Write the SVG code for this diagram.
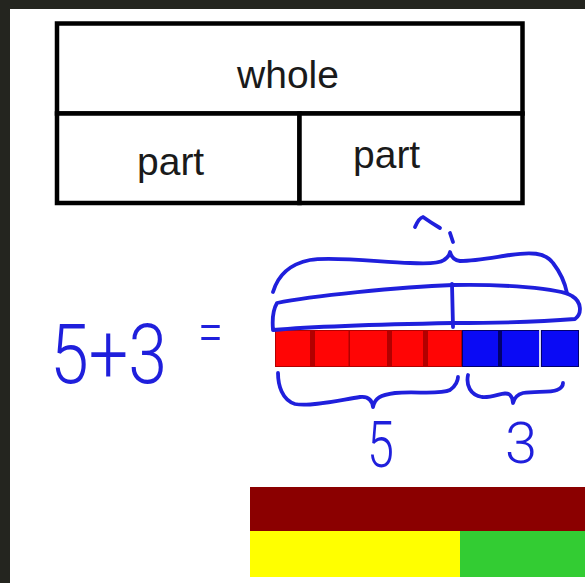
<svg xmlns="http://www.w3.org/2000/svg" width="585" height="583" viewBox="0 0 585 583">
<style>
.cell{fill:#fff;stroke:#000;stroke-width:4.5}
.lbl{font-family:"Liberation Sans",Arial,sans-serif;font-size:39px;fill:#1a1a1a}
.ink{fill:none;stroke:#1f1fdc;stroke-width:3.8;stroke-linecap:round;stroke-linejoin:round}
.hand{font-family:Roboto,"DejaVu Sans",sans-serif;font-weight:300;fill:#1f1fdc}
.red{fill:#ff0505}
.blue{fill:#0a0af5}
</style>
<rect x="0" y="0" width="585" height="583" fill="#24251f"/>
<rect x="10" y="9" width="575" height="574" fill="#fff"/>

<g id="whole">
<rect class="cell" x="57" y="23.5" width="465.5" height="90"/>
<text class="lbl" x="288" y="88" text-anchor="middle">whole</text>
</g>
<g id="part-left">
<rect class="cell" x="57" y="113.5" width="242.5" height="89.5"/>
<text class="lbl" x="137" y="175">part</text>
</g>
<g id="part-right">
<rect class="cell" x="299.5" y="113.5" width="223" height="89.5"/>
<text class="lbl" x="353" y="168">part</text>
</g>

<g id="equation">
<text class="hand" x="50" y="383" font-size="84" textLength="117" lengthAdjust="spacingAndGlyphs">5+3</text>
<text class="hand" x="198" y="352" font-size="58" textLength="25" lengthAdjust="spacingAndGlyphs">=</text>
</g>

<g id="cubes">
<rect x="275" y="330" width="187" height="37" fill="#b30000"/>
<rect class="red" x="276" y="331" width="34" height="35"/>
<rect class="red" x="315" y="331" width="33.5" height="35"/>
<rect class="red" x="350" y="331" width="37" height="35"/>
<rect class="red" x="392" y="331" width="31" height="35"/>
<rect class="red" x="428" y="331" width="33" height="35"/>
<rect x="462" y="330" width="117" height="37" fill="#00006e"/>
<rect class="blue" x="463" y="331" width="35" height="35"/>
<rect class="blue" x="502" y="331" width="37" height="35"/>
<rect x="539" y="330" width="2" height="37" fill="#d8d8f0"/>
<rect class="blue" x="542" y="331" width="36" height="35"/>
</g>

<g id="annotations">
<path class="ink" d="M415,227 Q419,218 423,217 Q430,222 440,228"/>
<path class="ink" d="M450,233 L453,242"/>
<path class="ink" d="M273,292 C278,275 290,264 310,260 C330,256 380,262 410,263 C428,264 440,263 444,260 Q449,257 450,252 Q452,260 460,261 C475,261 490,258 510,255 C530,252 545,252 553,263 C560,272 565,283 567,293"/>
<path class="ink" d="M277,303 C310,296 400,287 453,285 C500,284 560,288 572,296 C582,302 582,314 575,319 C540,322 480,323 453,323 C400,324 320,326 273,330 C272,318 274,308 277,303 Z"/>
<path class="ink" d="M452,284 L453,327"/>
<path class="ink" d="M278,373 C278,385 282,400 295,404 C310,407 340,400 360,397 C368,396 372,400 373,407 C375,398 380,395 395,393 C415,391 440,395 450,390 C456,386 458,380 458,377"/>
<path class="ink" d="M468,375 C466,385 470,395 482,397 C495,398 505,390 510,395 Q513,398 513,403 Q515,395 523,393 C535,391 550,393 557,390 C562,388 563,385 563,383"/>
</g>

<g id="labels">
<text class="hand" x="367" y="467" font-size="64" textLength="27" lengthAdjust="spacingAndGlyphs">5</text>
<text class="hand" x="505" y="463" font-size="58" textLength="32" lengthAdjust="spacingAndGlyphs">3</text>
</g>

<g id="bars">
<rect x="250" y="487" width="335" height="44" fill="#8b0000"/>
<rect x="250" y="531" width="210" height="46" fill="#ffff00"/>
<rect x="460" y="531" width="125" height="46" fill="#33cc33"/>
</g>
</svg>
